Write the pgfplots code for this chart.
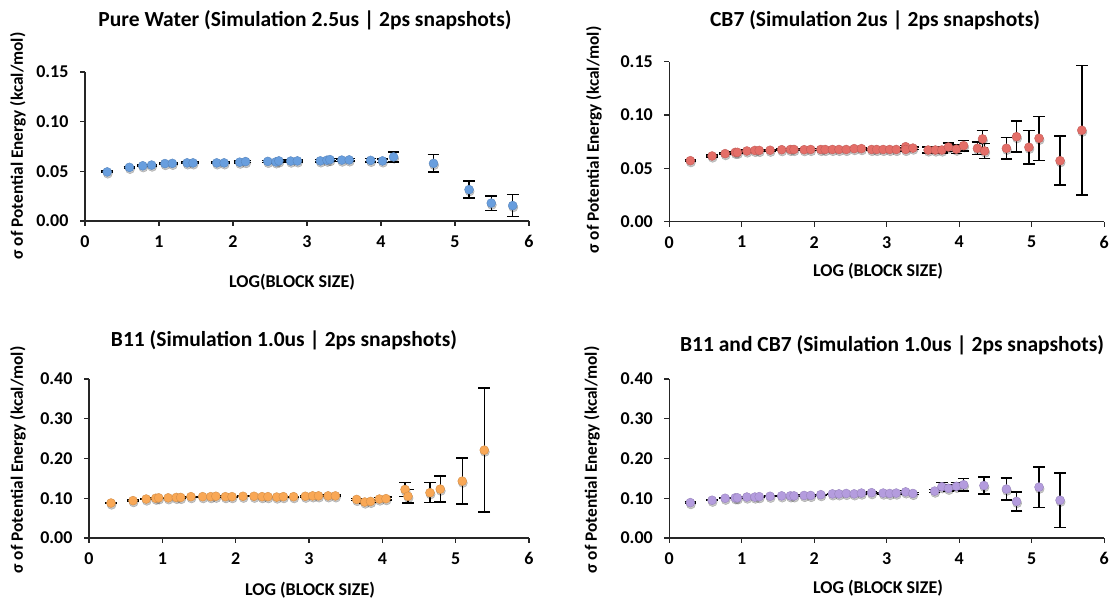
\documentclass[border=0pt]{standalone}
\usepackage{pgfplots}
\pgfplotsset{compat=1.18}
\usepackage{pgfplotstable}
\usepackage{fontspec}
\setmainfont{Carlito}

\definecolor{cblue}{RGB}{104,158,222}
\definecolor{cred}{RGB}{228,110,104}
\definecolor{corange}{RGB}{249,168,86}
\definecolor{cpurple}{RGB}{180,156,222}

\pgfplotstableread{
x y e
0.30 0.0494 0.0008
0.60 0.0540 0.0008
0.78 0.0556 0.0008
0.90 0.0563 0.0008
1.08 0.0578 0.0008
1.18 0.0580 0.0008
1.38 0.0585 0.0008
1.46 0.0585 0.0008
1.78 0.0585 0.0008
1.88 0.0585 0.0008
2.09 0.0592 0.0010
2.17 0.0598 0.0010
2.47 0.0600 0.0010
2.58 0.0595 0.0010
2.62 0.0605 0.0010
2.78 0.0603 0.0010
2.87 0.0605 0.0010
3.18 0.0605 0.0012
3.27 0.0612 0.0012
3.31 0.0618 0.0012
3.47 0.0613 0.0012
3.57 0.0615 0.0012
3.86 0.0610 0.0018
4.02 0.0605 0.0018
4.17 0.0645 0.0050
4.71 0.0580 0.0087
5.19 0.0316 0.0087
5.49 0.0180 0.0073
5.78 0.0155 0.0110
}\water

\pgfplotstableread{
x y e
0.29 0.0572 0.0008
0.59 0.0616 0.0008
0.77 0.0638 0.0008
0.91 0.0650 0.0008
0.94 0.0650 0.0008
1.07 0.0663 0.0008
1.18 0.0668 0.0008
1.24 0.0668 0.0008
1.39 0.0670 0.0008
1.55 0.0675 0.0008
1.67 0.0677 0.0008
1.72 0.0677 0.0008
1.86 0.0675 0.0008
1.95 0.0677 0.0008
2.09 0.0677 0.0008
2.15 0.0677 0.0008
2.25 0.0677 0.0008
2.34 0.0677 0.0008
2.44 0.0677 0.0008
2.55 0.0685 0.0008
2.65 0.0685 0.0008
2.79 0.0677 0.0010
2.86 0.0677 0.0010
2.95 0.0677 0.0010
3.04 0.0677 0.0010
3.13 0.0677 0.0010
3.26 0.0703 0.0012
3.26 0.0677 0.0012
3.36 0.0690 0.0012
3.57 0.0672 0.0030
3.67 0.0672 0.0030
3.76 0.0672 0.0030
3.85 0.0700 0.0040
3.96 0.0680 0.0040
4.06 0.0713 0.0050
4.25 0.0688 0.0060
4.32 0.0776 0.0080
4.35 0.0663 0.0070
4.65 0.0688 0.0100
4.79 0.0797 0.0145
4.96 0.0698 0.0156
5.10 0.0782 0.0206
5.39 0.0572 0.0230
5.69 0.0857 0.0605
}\cbseven

\pgfplotstableread{
x y e
0.30 0.088 0.001
0.60 0.094 0.001
0.78 0.098 0.001
0.91 0.100 0.001
0.95 0.101 0.001
1.08 0.101 0.001
1.19 0.102 0.001
1.25 0.102 0.001
1.39 0.104 0.001
1.55 0.104 0.001
1.66 0.104 0.001
1.73 0.105 0.001
1.86 0.104 0.001
1.95 0.104 0.001
2.10 0.105 0.001
2.25 0.105 0.001
2.36 0.104 0.001
2.44 0.104 0.001
2.56 0.103 0.001
2.65 0.104 0.001
2.79 0.104 0.001
2.95 0.105 0.002
3.05 0.106 0.002
3.13 0.106 0.002
3.26 0.106 0.002
3.36 0.106 0.002
3.65 0.097 0.003
3.76 0.0905 0.003
3.84 0.092 0.003
3.96 0.098 0.004
4.05 0.099 0.004
4.31 0.122 0.017
4.35 0.105 0.017
4.65 0.114 0.025
4.79 0.123 0.033
5.09 0.143 0.058
5.39 0.221 0.156
}\beleven

\pgfplotstableread{
x y e
0.29 0.089 0.001
0.59 0.095 0.001
0.77 0.100 0.001
0.91 0.101 0.001
0.94 0.101 0.001
1.07 0.103 0.001
1.18 0.103 0.001
1.24 0.104 0.001
1.39 0.105 0.001
1.55 0.106 0.001
1.67 0.106 0.001
1.72 0.106 0.001
1.86 0.107 0.001
1.95 0.107 0.001
2.09 0.109 0.001
2.25 0.111 0.001
2.34 0.111 0.001
2.44 0.112 0.001
2.55 0.111 0.002
2.65 0.113 0.002
2.79 0.114 0.002
2.95 0.113 0.002
3.04 0.112 0.002
3.13 0.113 0.002
3.26 0.116 0.003
3.36 0.112 0.003
3.66 0.118 0.004
3.76 0.129 0.010
3.85 0.125 0.008
3.96 0.130 0.010
4.06 0.134 0.0155
4.34 0.132 0.021
4.65 0.123 0.028
4.79 0.092 0.024
5.10 0.128 0.051
5.39 0.095 0.068
}\both

\pgfplotsset{
  panel/.style={
    scale only axis,
    axis x line*=bottom, axis y line*=left,
    xmin=0, xmax=6, xtick={0,1,2,3,4,5,6},
    tick align=outside, major tick length=5pt,
    every tick/.style={black!85, line width=1.1pt},
    axis line style={black!85, line width=1.1pt},
    ticklabel style={font=\fontsize{18}{18}\selectfont\bfseries},
    /pgf/number format/assume math mode=true,
    yticklabel style={/pgf/number format/fixed, /pgf/number format/fixed zerofill, /pgf/number format/precision=2, xshift=-8pt},
    xticklabel style={yshift=-6pt},
    clip=false,
  },
  eb/.style={
    only marks, mark=*, mark size=4.5pt,
    mark options={fill=#1, draw=#1!85!black, line width=0.4pt},
    error bars/.cd, y dir=both, y explicit,
    error bar style={line width=1.5pt, black},
    error mark options={rotate=90, mark size=5.8pt, line width=1.5pt, black},
  },
  shadow/.style={
    only marks, mark=*, mark size=4.6pt,
    mark options={fill=black, draw=none, opacity=0.22, xshift=0.6pt, yshift=-1.8pt},
  },
}

\newcommand{\ylab}{σ of Potential Energy (kcal/mol)}

\begin{document}
\begin{tikzpicture}[x=1pt,y=1pt]
\path[use as bounding box] (0,0) rectangle (1112,600);

% Panel 1
\begin{axis}[panel, at={(85pt,379pt)}, anchor=origin, width=444pt, height=149pt,
  ymin=0, ymax=0.15, ytick={0,0.05,0.10,0.15}]
\addplot[shadow] table[x=x,y=y] {\water};
\addplot[eb=cblue] table[x=x,y=y,y error=e] {\water};
\end{axis}

% Panel 2
\begin{axis}[panel, at={(669.3pt,378.3pt)}, anchor=origin, width=435pt, height=160pt,
  ymin=0, ymax=0.15, ytick={0,0.05,0.10,0.15}]
\addplot[shadow] table[x=x,y=y] {\cbseven};
\addplot[eb=cred] table[x=x,y=y,y error=e] {\cbseven};
\end{axis}

% Panel 3
\begin{axis}[panel, at={(89pt,62pt)}, anchor=origin, width=440pt, height=159pt,
  ymin=0, ymax=0.4, ytick={0,0.1,0.2,0.3,0.4}]
\addplot[shadow] table[x=x,y=y] {\beleven};
\addplot[eb=corange] table[x=x,y=y,y error=e] {\beleven};
\end{axis}

% Panel 4
\begin{axis}[panel, at={(669.3pt,62pt)}, anchor=origin, width=435pt, height=159pt,
  ymin=0, ymax=0.4, ytick={0,0.1,0.2,0.3,0.4}]
\addplot[shadow] table[x=x,y=y] {\both};
\addplot[eb=cpurple] table[x=x,y=y,y error=e] {\both};
\end{axis}

% titles
\begin{scope}[every node/.style={font=\fontsize{21.5}{21.5}\selectfont\bfseries, inner sep=0pt}]
\node at (305,580) {Pure Water (Simulation 2.5us | 2ps snapshots)};
\node at (875,580) {CB7 (Simulation 2us | 2ps snapshots)};
\node at (284,260) {B11 (Simulation 1.0us | 2ps snapshots)};
\node at (892,255) {B11 and CB7 (Simulation 1.0us | 2ps snapshots)};
\end{scope}

% axis labels
\begin{scope}[every node/.style={font=\fontsize{18}{18}\selectfont\bfseries, inner sep=0pt}]
\node at (292,318) {LOG(BLOCK SIZE)};
\node at (878,329) {LOG (BLOCK SIZE)};
\node at (310,10) {LOG (BLOCK SIZE)};
\node at (878,12) {LOG (BLOCK SIZE)};
\end{scope}
\begin{scope}[every node/.style={font=\fontsize{17.3}{17.3}\selectfont\bfseries, inner sep=0pt}]
\node[rotate=90] at (18,454) {\ylab};
\node[rotate=90] at (594,460) {\ylab};
\node[rotate=90] at (18,140) {\ylab};
\node[rotate=90] at (592,140) {\ylab};
\end{scope}
\end{tikzpicture}
\end{document}
